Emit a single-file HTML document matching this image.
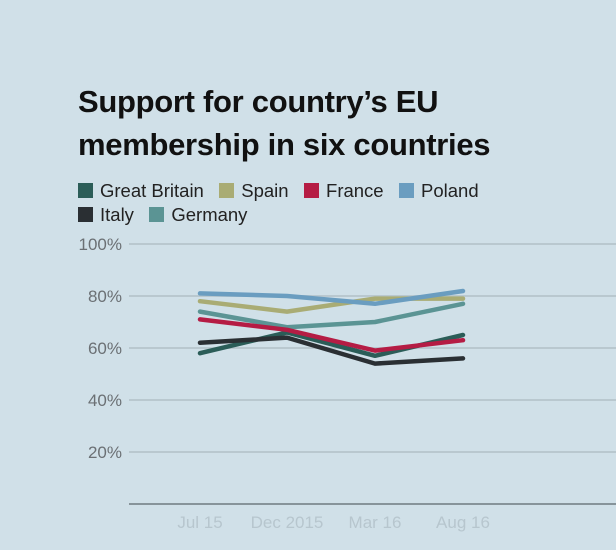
<!DOCTYPE html><html><head><style>
body{margin:0;width:616px;height:550px;background:#d0e0e8;font-family:"Liberation Sans",sans-serif;overflow:hidden;position:relative}
.t{position:absolute;left:78px;top:80px;font-size:31px;font-weight:bold;line-height:43px;color:#111;letter-spacing:-0.3px}
.lg{position:absolute;font-size:18.5px;color:#222}
.sw{display:inline-block;width:15px;height:15px;vertical-align:-1px;margin-right:7px}
</style></head><body>
<div class="t">Support for country’s EU<br>membership in six countries</div>
<div class="lg" style="left:78px;top:180px"><span class="sw" style="background:#2b5d58"></span>Great Britain &nbsp;&nbsp;<span class="sw" style="background:#a9ac74"></span>Spain &nbsp;&nbsp;<span class="sw" style="background:#b51c44"></span>France &nbsp;&nbsp;<span class="sw" style="background:#6a9dc0"></span>Poland</div>
<div class="lg" style="left:78px;top:204px"><span class="sw" style="background:#2a2f33"></span>Italy &nbsp;&nbsp;<span class="sw" style="background:#5b9494"></span>Germany</div>
<svg width="616" height="550" style="position:absolute;left:0;top:0" font-family="Liberation Sans,sans-serif">
<g stroke="#b9c8cf" stroke-width="2">
<line x1="129" x2="616" y1="244" y2="244"/><line x1="129" x2="616" y1="296" y2="296"/><line x1="129" x2="616" y1="348" y2="348"/><line x1="129" x2="616" y1="400" y2="400"/><line x1="129" x2="616" y1="452" y2="452"/></g>
<line x1="129" x2="616" y1="504" y2="504" stroke="#6f7a80" stroke-width="1.5"/>
<g font-size="17" fill="#6b7074" text-anchor="end">
<text x="122" y="250">100%</text><text x="122" y="302">80%</text><text x="122" y="354">60%</text><text x="122" y="406">40%</text><text x="122" y="458">20%</text></g>
<g font-size="17" fill="#b7c6ce" text-anchor="middle">
<text x="200" y="528">Jul 15</text><text x="287" y="528">Dec 2015</text><text x="375" y="528">Mar 16</text><text x="463" y="528">Aug 16</text></g>
<g fill="none" stroke-width="4.5" stroke-linecap="round" stroke-linejoin="round">
<polyline stroke="#a9ac74" points="200,301.2 287,311.6 375,298.6 463,298.6"/>
<polyline stroke="#6a9dc0" points="200,293.4 287,296 375,303.8 463,291"/>
<polyline stroke="#5b9494" points="200,311.6 287,327.2 375,322 463,303.8"/>
<polyline stroke="#2b5d58" points="200,353.2 287,332.4 375,355.8 463,335"/>
<polyline stroke="#2a2f33" points="200,342.8 287,337.6 375,363.6 463,358.4"/>
<polyline stroke="#b51c44" points="200,319.4 287,329.8 375,350.6 463,340.2"/>
</g></svg>
</body></html>
